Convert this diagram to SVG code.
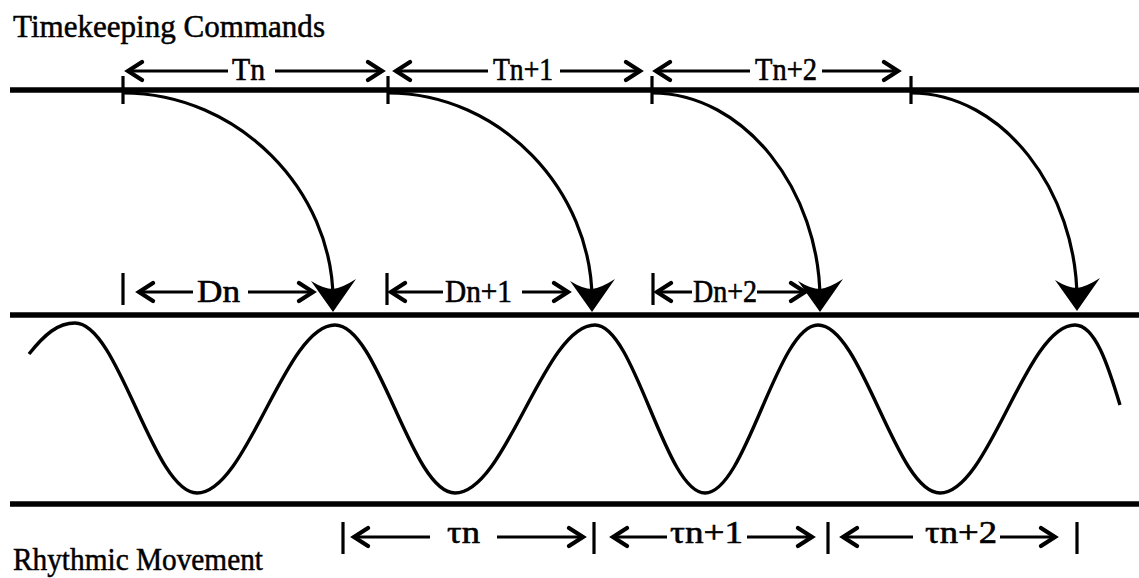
<svg xmlns="http://www.w3.org/2000/svg" width="1139" height="578" viewBox="0 0 1139 578">
<style>
.rail{stroke:#000;stroke-width:5.5;fill:none}
.tick{stroke:#000;stroke-width:3.2;fill:none}
.dim{stroke:#000;stroke-width:3;fill:none}
.chev{stroke:#000;stroke-width:4.2;fill:none;stroke-linecap:round;stroke-linejoin:miter}
.arc{stroke:#000;stroke-width:3.2;fill:none}
.wave{stroke:#000;stroke-width:3.4;fill:none}
.title{font-family:"Liberation Serif","Times New Roman",serif;font-size:31px;fill:#000;stroke:#000;stroke-width:0.5}
.lbl{font-family:"Liberation Serif","Times New Roman",serif;font-size:32px;fill:#000;stroke:#000;stroke-width:0.6}
</style>
<defs>
<path id="head" d="M0,0 L-22,-31 Q-9,-23 0,-23 Q9,-24 23,-33 Z" fill="#000"/>
</defs>

<g id="titles">
<text class="title" x="13" y="37" textLength="312" lengthAdjust="spacingAndGlyphs">Timekeeping Commands</text>
<text class="title" x="13" y="570" textLength="250" lengthAdjust="spacingAndGlyphs">Rhythmic Movement</text>
</g>

<g id="rails">
<line class="rail" x1="10" y1="90" x2="1139" y2="90"/>
<line class="rail" x1="10" y1="315" x2="1139" y2="315"/>
<line class="rail" x1="10" y1="504" x2="1139" y2="504"/>
</g>

<g id="command-ticks">
<line class="tick" x1="123" y1="76" x2="123" y2="104"/>
<line class="tick" x1="388" y1="76" x2="388" y2="104"/>
<line class="tick" x1="652" y1="76" x2="652" y2="104"/>
<line class="tick" x1="911" y1="76" x2="911" y2="104"/>
</g>

<g id="T-intervals">
<line class="dim" x1="128" y1="71" x2="228" y2="71"/>
<line class="dim" x1="275" y1="71" x2="381" y2="71"/>
<path class="chev" d="M142,62 L128,71 L142,80 M368,62 L382,71 L368,80"/>
<text class="lbl" x="232" y="80" textLength="33" lengthAdjust="spacingAndGlyphs">Tn</text>
<line class="dim" x1="396" y1="71" x2="488" y2="71"/>
<line class="dim" x1="560" y1="71" x2="639" y2="71"/>
<path class="chev" d="M410,62 L396,71 L410,80 M626,62 L640,71 L626,80"/>
<text class="lbl" x="493" y="80" textLength="60" lengthAdjust="spacingAndGlyphs">Tn+1</text>
<line class="dim" x1="656" y1="71" x2="750" y2="71"/>
<line class="dim" x1="822" y1="71" x2="897" y2="71"/>
<path class="chev" d="M670,62 L656,71 L670,80 M884,62 L898,71 L884,80"/>
<text class="lbl" x="755" y="80" textLength="62" lengthAdjust="spacingAndGlyphs">Tn+2</text>
</g>

<g id="D-intervals">
<line class="tick" x1="123" y1="273" x2="123" y2="305"/>
<line class="dim" x1="139" y1="292" x2="193" y2="292"/>
<line class="dim" x1="248" y1="292" x2="312" y2="292"/>
<path class="chev" d="M153,283 L139,292 L153,301 M299,283 L313,292 L299,301"/>
<text class="lbl" x="197" y="302" textLength="43" lengthAdjust="spacingAndGlyphs">Dn</text>
<line class="tick" x1="387" y1="273" x2="387" y2="305"/>
<line class="dim" x1="391" y1="292" x2="443" y2="292"/>
<line class="dim" x1="522" y1="292" x2="567" y2="292"/>
<path class="chev" d="M405,283 L391,292 L405,301 M554,283 L568,292 L554,301"/>
<text class="lbl" x="445" y="302" textLength="67" lengthAdjust="spacingAndGlyphs">Dn+1</text>
<line class="tick" x1="653" y1="273" x2="653" y2="305"/>
<line class="dim" x1="657" y1="292" x2="692" y2="292"/>
<line class="dim" x1="757" y1="292" x2="804" y2="292"/>
<path class="chev" d="M671,283 L657,292 L671,301 M791,283 L805,292 L791,301"/>
<text class="lbl" x="693" y="302" textLength="64" lengthAdjust="spacingAndGlyphs">Dn+2</text>
</g>

<g id="connectors">
<path class="arc" d="M123,93 C239,93 333,191 333,300"/>
<path class="arc" d="M388,93 C501,93 592,191 592,300"/>
<path class="arc" d="M652,93 C745,93 820,191 820,300"/>
<path class="arc" d="M911,93 C1003,93 1077,191 1077,300"/>
<use href="#head" transform="translate(333,312)"/>
<use href="#head" transform="translate(592,312)"/>
<use href="#head" transform="translate(820,312)"/>
<use href="#head" transform="translate(1077,311)"/>
</g>

<g id="movement-wave">
<path class="wave" d="M29,354 C45,334 58,323 75,323 C119,323 153,493 197,493 C247,493 285,325 335,325 C379,325 411,493 455,493 C506,493 544,325 595,325 C635,325 665,493 705,493 C746,493 777,325 818,325 C862,325 896,493 940,493 C989,493 1026,325 1075,325 C1095,325 1108,365 1120,405"/>
</g>

<g id="tau-intervals">
<line class="tick" x1="343" y1="522" x2="343" y2="554"/>
<line class="dim" x1="354" y1="537" x2="430" y2="537"/>
<line class="dim" x1="497" y1="537" x2="582" y2="537"/>
<path class="chev" d="M368,528 L354,537 L368,546 M569,528 L583,537 L569,546"/>
<text class="lbl" x="447" y="543" textLength="33" lengthAdjust="spacingAndGlyphs">τn</text>
<line class="tick" x1="594" y1="522" x2="594" y2="554"/>
<line class="dim" x1="613" y1="537" x2="667" y2="537"/>
<line class="dim" x1="747" y1="537" x2="811" y2="537"/>
<path class="chev" d="M627,528 L613,537 L627,546 M798,528 L812,537 L798,546"/>
<text class="lbl" x="670" y="543" textLength="73" lengthAdjust="spacingAndGlyphs">τn+1</text>
<line class="tick" x1="828" y1="522" x2="828" y2="554"/>
<line class="dim" x1="843" y1="537" x2="913" y2="537"/>
<line class="dim" x1="1000" y1="537" x2="1054" y2="537"/>
<path class="chev" d="M857,528 L843,537 L857,546 M1041,528 L1055,537 L1041,546"/>
<text class="lbl" x="925" y="543" textLength="72" lengthAdjust="spacingAndGlyphs">τn+2</text>
<line class="tick" x1="1077" y1="522" x2="1077" y2="554"/>
</g>
</svg>
